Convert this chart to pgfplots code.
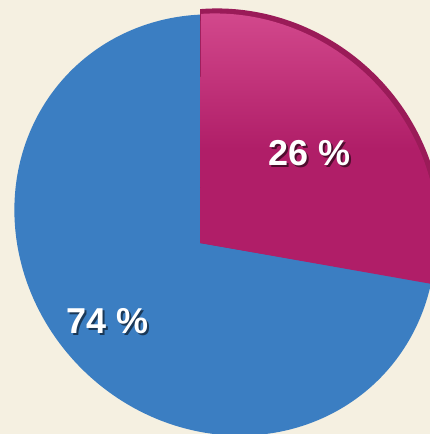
\documentclass[border=0pt]{standalone}
\usepackage{pgfplots}
\pgfplotsset{compat=1.18}
\usepackage{fontspec}
\setmainfont{Liberation Sans}
\definecolor{bg}{HTML}{F5F0E1}
\definecolor{pieblue}{HTML}{3B7EC2}
\definecolor{piemag}{HTML}{B01E68}
\definecolor{piemaglight}{HTML}{D2488C}
\definecolor{pierim}{HTML}{9A1B58}
% pie values (percent): magenta 26, blue 74
\begin{document}
\begin{tikzpicture}
\begin{axis}[
  width=430pt, height=434pt, scale only axis,
  xmin=0, xmax=430, ymin=0, ymax=434,
  hide axis, clip=true,
]
% background
\addplot[fill=bg, draw=none] coordinates {(0,0) (430,0) (430,434) (0,434)} -- cycle;
% blue slice: 74 % (tilted pie seen in perspective); runs on under the raised slice
\addplot[fill=pieblue, draw=none, domain=139.75:400, samples=200]
  ({225+(218*cos(x)+203*sin(x))/sqrt(2)},{209+(203*sin(x)-218*cos(x))/sqrt(2)}) -- (axis cs:200,191) -- cycle;
% magenta slice: 26 % (raised, rim)
\addplot[fill=pierim, draw=none, domain=30:141, samples=100]
  ({228+(220*cos(x)+209*sin(x))/sqrt(2)},{211+(209*sin(x)-220*cos(x))/sqrt(2)}) -- (axis cs:200,191) -- cycle;
% magenta slice face
\addplot[draw=none, top color=piemaglight, bottom color=piemag, middle color=piemag, domain=30.3:140.3, samples=100]
  ({226+(217*cos(x)+206*sin(x))/sqrt(2)},{209+(206*sin(x)-217*cos(x))/sqrt(2)}) -- (axis cs:200,191) -- cycle;
% labels
\node[text=black, opacity=0.55, font=\fontsize{36}{40}\selectfont\bfseries] at (axis cs:311.5,278.5) {26 \%};
\node[text=white, font=\fontsize{36}{40}\selectfont\bfseries] at (axis cs:309.5,280.5) {26 \%};
\node[text=black, opacity=0.55, font=\fontsize{36}{40}\selectfont\bfseries] at (axis cs:109.5,111) {74 \%};
\node[text=white, font=\fontsize{36}{40}\selectfont\bfseries] at (axis cs:107.5,113) {74 \%};
\end{axis}
\end{tikzpicture}
\end{document}
